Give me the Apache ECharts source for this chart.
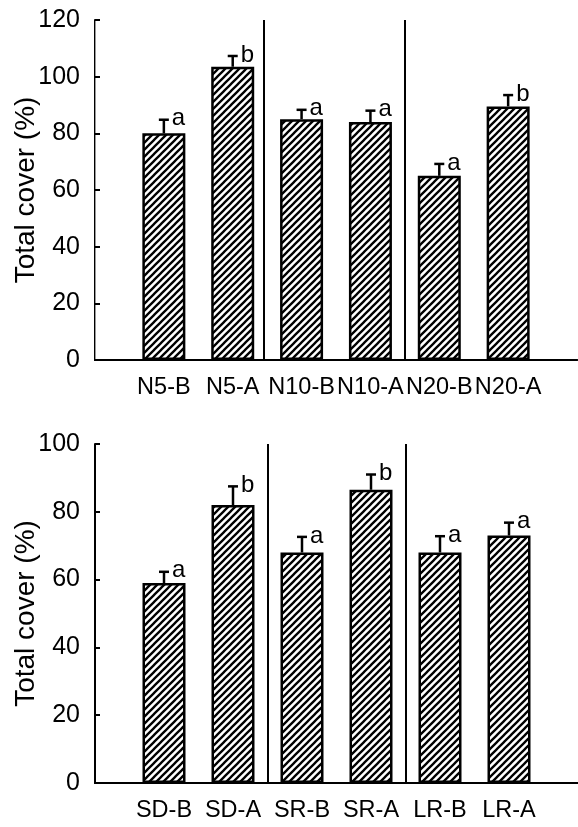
<!DOCTYPE html>
<html>
<head>
<meta charset="utf-8">
<script src="https://cdn.jsdelivr.net/npm/echarts@6/dist/echarts.min.js"></script>
<style>
  html, body { margin: 0; padding: 0; background: #fff; }
  #chart { width: 578px; height: 827px; }
</style>
</head>
<body>
<div id="chart"></div>
<script>
// top panel data
const topCats = ['N5-B', 'N5-A', 'N10-B', 'N10-A', 'N20-B', 'N20-A']
const topMeans = [80, 103.5, 85, 84, 65, 89.5]
const topErrs = [4.8, 3.8, 3.3, 4, 4.2, 4]
const topLetters = ['a', 'b', 'a', 'a', 'a', 'b']
const topTicks = [0, 20, 40, 60, 80, 100, 120]
const topSeparators = [2.45, 4.5]

// bottom panel data
const botCats = ['SD-B', 'SD-A', 'SR-B', 'SR-A', 'LR-B', 'LR-A']
const botMeans = [59, 82, 68, 86.5, 68, 73]
const botErrs = [3.3, 5.5, 4.6, 4.5, 4.8, 3.8]
const botLetters = ['a', 'b', 'a', 'b', 'a', 'a']
const botTicks = [0, 20, 40, 60, 80, 100]
const botSeparators = [2.5, 4.5]

const FONT = '"Liberation Sans", Arial, sans-serif'

// diagonal hatch ////
const makeHatch = () => {
    const s = 7
    const c = document.createElement('canvas')
    c.width = s
    c.height = s
    const ctx = c.getContext('2d')
    ctx.fillStyle = '#fff'
    ctx.fillRect(0, 0, s, s)
    ctx.strokeStyle = '#000'
    ctx.lineWidth = 2.3
    ctx.beginPath()
    ctx.moveTo(-1, s + 1); ctx.lineTo(s + 1, -1)
    ctx.moveTo(-1, 1); ctx.lineTo(1, -1)
    ctx.moveTo(s - 1, s + 1); ctx.lineTo(s + 1, s - 1)
    ctx.stroke()
    return c
}
const hatch = makeHatch()

const xAxisFor = (idx, cats) => ([
    {
        gridIndex: idx, type: 'value', min: 0, max: 7, interval: 1,
        axisLine: { show: true, onZero: false, lineStyle: { color: '#000', width: 2 } },
        axisTick: { show: false },
        splitLine: { show: false },
        axisLabel: {
            margin: 16, fontSize: 23.5, color: '#000', fontFamily: FONT,
            formatter: v => cats[v - 1] || ''
        }
    },
    {
        gridIndex: idx, type: 'value', min: 0, max: 7, position: 'top',
        axisLine: { show: true, lineStyle: { color: '#000', width: 2 } },
        axisTick: { show: false }, axisLabel: { show: false }, splitLine: { show: false }
    }
])

const yAxisFor = (idx, ticks, showRight) => ([
    {
        gridIndex: idx, type: 'value', min: 0, max: ticks[ticks.length - 1], interval: 20,
        name: 'Total cover (%)', nameLocation: 'middle', nameGap: 55, nameMoveOverlap: false,
        nameTextStyle: { fontSize: 28, color: '#000', fontFamily: FONT },
        axisLine: { show: true, lineStyle: { color: '#000', width: 2 } },
        axisTick: { show: true, inside: true, length: 5, lineStyle: { color: '#000', width: 2 } },
        splitLine: { show: false },
        axisLabel: { margin: 15, fontSize: 25, color: '#000', fontFamily: FONT }
    },
    {
        gridIndex: idx, type: 'value', min: 0, max: ticks[ticks.length - 1], position: 'right',
        axisLine: { show: showRight, lineStyle: { color: '#999', width: 1 } },
        axisTick: { show: false }, axisLabel: { show: false }, splitLine: { show: false }
    }
])

const barSeries = (idx, means, seps) => ({
    type: 'bar',
    xAxisIndex: idx * 2, yAxisIndex: idx * 2,
    barWidth: 43,
    data: means.map((v, i) => [i + 1, v]),
    itemStyle: { color: { image: hatch, repeat: 'repeat' }, borderColor: '#000', borderWidth: 2.5 },
    silent: true,
    markLine: {
        silent: true, symbol: 'none', label: { show: false },
        lineStyle: { color: '#000', width: 2, type: 'solid' },
        data: seps.map(x => ({ xAxis: x }))
    }
})

const errSeries = (idx, means, errs, letters) => ({
    type: 'custom',
    xAxisIndex: idx * 2, yAxisIndex: idx * 2,
    data: means.map((v, i) => [i + 1, v, errs[i]]),
    renderItem: (params, api) => {
        const x = api.value(0), m = api.value(1), e = api.value(2)
        const p0 = api.coord([x, m])
        const p1 = api.coord([x, m + e])
        const st = { stroke: '#000', lineWidth: 2.5 }
        return {
            type: 'group',
            children: [
                { type: 'line', shape: { x1: p0[0], y1: p0[1], x2: p1[0], y2: p1[1] }, style: st },
                { type: 'line', shape: { x1: p1[0] - 5, y1: p1[1], x2: p1[0] + 5, y2: p1[1] }, style: st },
                {
                    type: 'text',
                    style: {
                        text: letters[params.dataIndex], x: p1[0] + 8, y: p1[1] - 1,
                        fill: '#000', font: '24px ' + FONT, align: 'left', verticalAlign: 'middle'
                    }
                }
            ]
        }
    }
})

const chart = echarts.init(document.getElementById('chart'))
chart.setOption({
    animation: false,
    backgroundColor: '#fff',
    grid: [
        { left: 95, right: 1, top: 20, bottom: 467, outerBoundsMode: 'none', containLabel: false },
        { left: 95, right: 0, top: 444, bottom: 44, outerBoundsMode: 'none', containLabel: false }
    ],
    xAxis: [...xAxisFor(0, topCats), ...xAxisFor(1, botCats)],
    yAxis: [...yAxisFor(0, topTicks, true), ...yAxisFor(1, botTicks, false)],
    series: [
        barSeries(0, topMeans, topSeparators),
        errSeries(0, topMeans, topErrs, topLetters),
        barSeries(1, botMeans, botSeparators),
        errSeries(1, botMeans, botErrs, botLetters)
    ]
})
</script>
</body>
</html>
